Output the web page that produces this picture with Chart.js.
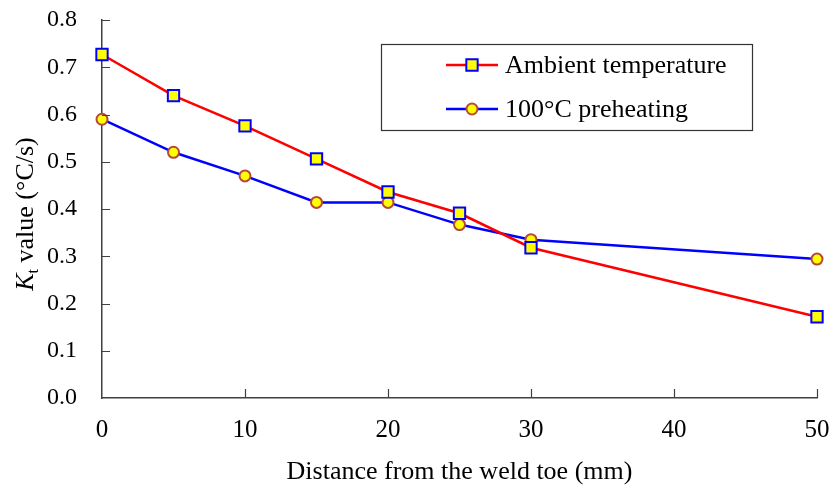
<!DOCTYPE html>
<html>
<head>
<meta charset="utf-8">
<script src="https://cdn.jsdelivr.net/npm/chart.js@4.4.0/dist/chart.umd.min.js"></script>
<style>
  html, body { margin: 0; padding: 0; background: #fff; }
  #wrap { width: 835px; height: 492px; }
</style>
</head>
<body>
<div id="wrap"><canvas id="c" width="835" height="492"></canvas></div>
<script>
// data
const distance = [0, 5, 10, 15, 20, 25, 30, 50]
const ambient = [0.727, 0.640, 0.576, 0.506, 0.436, 0.391, 0.318, 0.172]
const preheat = [0.590, 0.520, 0.470, 0.414, 0.414, 0.367, 0.335, 0.294]
const seriesNames = ['Ambient temperature', '100°C preheating']
const xTitle = 'Distance from the weld toe (mm)'

const FONT = '"Liberation Serif", "Times New Roman", serif'
const axisColor = '#404040'

const toPoints = (ys) => distance.map((x, i) => ({ x, y: ys[i] }))

// ticks pointing into the plot, y title with subscript, boxed legend
const decorations = {
  id: 'decorations',
  afterDraw (chart) {
    const { ctx, chartArea, scales } = chart
    ctx.save()
    ctx.strokeStyle = axisColor
    ctx.lineWidth = 1.2
    ctx.beginPath()
    for (let v = 10; v <= 50; v += 10) {
      const px = Math.round(scales.x.getPixelForValue(v)) + 0.5
      ctx.moveTo(px, chartArea.bottom)
      ctx.lineTo(px, chartArea.bottom - 9)
    }
    for (let v = 1; v <= 8; v++) {
      const py = Math.round(scales.y.getPixelForValue(v / 10)) + 0.5
      ctx.moveTo(chartArea.left, py)
      ctx.lineTo(chartArea.left + 8, py)
    }
    ctx.stroke()

    // y axis title: K_t value (°C/s)
    ctx.fillStyle = '#000'
    ctx.translate(26, 214)
    ctx.rotate(-Math.PI / 2)
    ctx.textBaseline = 'middle'
    const fs = 26
    const rest = ' value (°C/s)'
    ctx.font = `italic ${fs}px ${FONT}`
    const wK = ctx.measureText('K').width
    ctx.font = `${fs * 0.62}px ${FONT}`
    const wt = ctx.measureText('t').width
    ctx.font = `${fs}px ${FONT}`
    const wr = ctx.measureText(rest).width
    let tx = -(wK + wt + wr) / 2
    ctx.textAlign = 'left'
    ctx.font = `italic ${fs}px ${FONT}`
    ctx.fillText('K', tx, 0)
    tx += wK
    ctx.font = `${fs * 0.62}px ${FONT}`
    ctx.fillText('t', tx, 8)
    tx += wt
    ctx.font = `${fs}px ${FONT}`
    ctx.fillText(rest, tx, 0)
    ctx.restore()

    // legend
    ctx.save()
    const box = { x: 381, y: 44, w: 371, h: 86 }
    ctx.strokeStyle = '#333'
    ctx.lineWidth = 1.2
    ctx.strokeRect(box.x + 0.5, box.y + 0.5, box.w, box.h)
    const rows = [65, 109]
    chart.data.datasets.forEach((ds, i) => {
      const y = rows[i]
      ctx.strokeStyle = ds.borderColor
      ctx.lineWidth = ds.borderWidth
      ctx.beginPath()
      ctx.moveTo(446, y)
      ctx.lineTo(498, y)
      ctx.stroke()
      ctx.fillStyle = ds.pointBackgroundColor
      ctx.strokeStyle = ds.pointBorderColor
      ctx.lineWidth = ds.pointBorderWidth
      Chart.helpers.drawPoint(ctx, { pointStyle: ds.pointStyle, radius: ds.pointRadius, borderWidth: ds.pointBorderWidth, rotation: 0 }, 472, y)
      ctx.fillStyle = '#000'
      ctx.font = `26px ${FONT}`
      ctx.textBaseline = 'middle'
      ctx.textAlign = 'left'
      ctx.fillText(ds.label, 505, y + 1)
    })
    ctx.restore()
  }
}

new Chart(document.getElementById('c'), {
  type: 'line',
  data: {
    datasets: [
      {
        label: seriesNames[0],
        data: toPoints(ambient),
        borderColor: '#ff0000',
        borderWidth: 2.5,
        clip: false,
        pointStyle: 'rect',
        pointRadius: 8,
        pointBackgroundColor: '#ffff00',
        pointBorderColor: '#0000ff',
        pointBorderWidth: 2
      },
      {
        label: seriesNames[1],
        data: toPoints(preheat),
        borderColor: '#0000ff',
        borderWidth: 2.5,
        clip: false,
        pointStyle: 'circle',
        pointRadius: 5.5,
        pointBackgroundColor: '#ffff00',
        pointBorderColor: '#b5483c',
        pointBorderWidth: 2
      }
    ]
  },
  options: {
    responsive: false,
    animation: false,
    layout: { padding: { top: 20, right: 18, left: 0, bottom: 0 } },
    plugins: {
      legend: { display: false },
      tooltip: { enabled: false }
    },
    scales: {
      x: {
        type: 'linear',
        min: 0,
        max: 50,
        ticks: { stepSize: 10, color: '#000', font: { family: FONT, size: 25 }, padding: 0 },
        grid: { display: false, tickLength: 17 },
        border: { display: true, color: axisColor, width: 1.5 },
        title: { display: true, text: xTitle, color: '#000', font: { family: FONT, size: 26 }, padding: { top: 4, bottom: 4 } },
        afterFit (scale) { scale.height = 94 }
      },
      y: {
        min: 0,
        max: 0.8,
        ticks: {
          stepSize: 0.1,
          color: '#000',
          font: { family: FONT, size: 24 },
          padding: 0,
          callback: (v) => Number(v).toFixed(1)
        },
        grid: { display: false, tickLength: 25 },
        border: { display: true, color: axisColor, width: 1.5 },
        afterFit (scale) { scale.width = 102 }
      }
    }
  },
  plugins: [decorations]
})
</script>
</body>
</html>
